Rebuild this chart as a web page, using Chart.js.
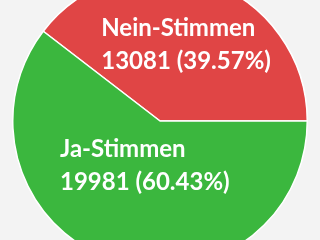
<!DOCTYPE html>
<html>
<head>
<meta charset="utf-8">
<script src="https://cdn.jsdelivr.net/npm/chart.js@4.4.0/dist/chart.umd.min.js"></script>
<style>
  html, body { margin: 0; padding: 0; background: #f3f3f3; overflow: hidden; }
  #wrap { position: absolute; left: 0; top: -27px; width: 320px; height: 296px; }
</style>
</head>
<body>
<div id="wrap"><canvas id="pie"></canvas></div>
<script>
const labels = ['Nein-Stimmen', 'Ja-Stimmen'];
const votes = [13081, 19981];
const colors = ['#e04545', '#3bb73e'];

// labels drawn inside slices, two lines, left aligned
const sliceLabels = {
    id: 'sliceLabels',
    afterDatasetsDraw(chart, args, opts) {
        const ctx = chart.ctx;
        const total = votes.reduce((a, b) => a + b, 0);
        const arcs = chart.getDatasetMeta(0).data;
        ctx.save();
        ctx.fillStyle = '#ffffff';
        ctx.font = opts.font;
        ctx.textAlign = 'left';
        ctx.textBaseline = 'middle';
        arcs.forEach((arc, i) => {
            const p = arc.getProps(['x', 'y', 'startAngle', 'endAngle', 'outerRadius'], true);
            const mid = (p.startAngle + p.endAngle) / 2;
            const r = p.outerRadius * opts.distance[i];
            const cx = p.x + Math.cos(mid) * r;
            const cy = p.y + Math.sin(mid) * r;
            const lines = [
                labels[i],
                votes[i] + ' (' + (votes[i] / total * 100).toFixed(2) + '%)'
            ];
            const w = Math.max(...lines.map(l => ctx.measureText(l).width));
            lines.forEach((l, k) => {
                ctx.fillText(l, cx - w / 2, cy + (k - 0.5) * opts.lineHeight);
            });
        });
        ctx.restore();
    }
};

new Chart(document.getElementById('pie'), {
    type: 'pie',
    data: {
        labels: labels,
        datasets: [{
            data: votes,
            backgroundColor: colors,
            borderColor: '#ffffff',
            borderWidth: 1.5
        }]
    },
    options: {
        responsive: true,
        maintainAspectRatio: false,
        animation: false,
        rotation: -52.45,
        layout: { padding: 0 },
        plugins: {
            legend: { display: false },
            tooltip: { enabled: false },
            sliceLabels: {
                font: 'bold 24px Lato',
                lineHeight: 33,
                distance: [0.55, 0.32]
            }
        }
    },
    plugins: [sliceLabels]
});
</script>
</body>
</html>
